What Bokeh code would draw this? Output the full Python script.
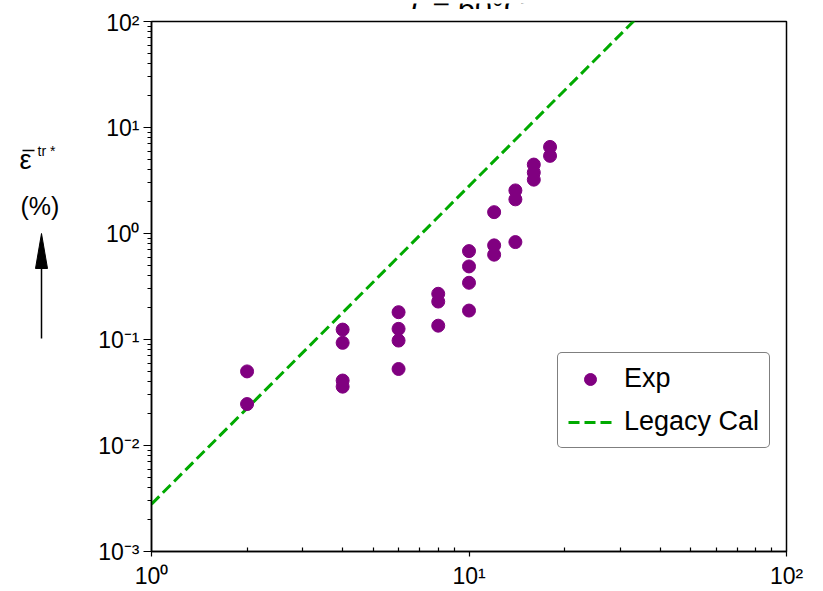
from bokeh.plotting import figure
from bokeh.layouts import column, row
from bokeh.models import (Legend, LegendItem, FixedTicker, CustomJSTickFormatter,
                          Range1d)
from bokeh.core.properties import value
from bokeh.embed import file_html
from bokeh.resources import INLINE

# ---- data ----
exp_x = [2, 2,
         4, 4, 4, 4,
         6, 6, 6, 6,
         8, 8, 8,
         10, 10, 10, 10,
         12, 12, 12,
         14, 14, 14,
         16, 16, 16,
         18, 18]
exp_y = [0.050, 0.0246,
         0.124, 0.093, 0.041, 0.0359,
         0.181, 0.126, 0.0977, 0.0527,
         0.270, 0.228, 0.135,
         0.682, 0.489, 0.343, 0.1875,
         1.59, 0.773, 0.631,
         2.55, 2.10, 0.830,
         4.47, 3.76, 3.22,
         6.56, 5.40]

legacy_x = [1, 100]
legacy_y = [0.0028, 2800.0]

x_ticks = [1, 10, 100]
x_tick_labels = ["10\u2070", "10\u00b9", "10\u00b2"]
y_ticks = [0.001, 0.01, 0.1, 1, 10, 100]
y_tick_labels = ["10\u207b\u00b3", "10\u207b\u00b2", "10\u207b\u00b9",
                 "10\u2070", "10\u00b9", "10\u00b2"]
x_minor = [m * d for d in [1, 10] for m in range(2, 10)]
y_minor = [m * d for d in [0.001, 0.01, 0.1, 1, 10] for m in range(2, 10)]

title_italic = "T"
title_rest = "= 60\u00b0C"
ylabel_sym = "\u03b5"
ylabel_sup = "tr *"
ylabel_unit = "(%)"

FONT = "Liberation Sans"
TOP = 9          # height of the title strip
FT, FB = 21, 551  # page rows of the plot frame
LH = 591 - TOP


def strip(w, h, xr, yr, **kw):
    f = figure(width=w, height=h, x_range=xr, y_range=yr, title=None,
               x_axis_location=None, y_axis_location=None,
               output_backend="svg", toolbar_location=None,
               min_border=0, min_border_left=0, min_border_right=0, **kw)
    f.xgrid.visible = False
    f.ygrid.visible = False
    f.outline_line_color = None
    f.background_fill_color = "white"
    f.border_fill_color = "white"
    return f


# ---- title strip (cut at the top like the reference) ----
tf = strip(823, TOP, Range1d(0, 823), Range1d(TOP, 0),
           min_border_top=0, min_border_bottom=0)
tf.text(x=[404], y=[4], text=[title_italic], text_font=value(FONT),
        text_font_size="30px", text_font_style="italic",
        text_baseline="alphabetic", text_align="left", text_color="black")
tf.text(x=[432], y=[4], text=[title_rest], text_font=value(FONT),
        text_font_size="30px", text_baseline="alphabetic", text_align="left",
        text_color="black")

# ---- left strip with the y label and arrow; its frame matches the plot frame,
#      its y range is in page rows ----
lf = strip(80, LH, Range1d(0, 80), Range1d(FB, FT),
           min_border_top=FT - TOP, min_border_bottom=591 - FB)
lf.text(x=[19], y=[159], text=[ylabel_sym], text_font=value(FONT),
        text_font_size="27px", text_baseline="alphabetic", text_color="black")
lf.segment(x0=[22], y0=[150], x1=[34], y1=[150], line_color="black", line_width=1.5)
lf.text(x=[37], y=[150], text=[ylabel_sup], text_font=value(FONT),
        text_font_size="14px", text_baseline="alphabetic", text_color="black")
lf.text(x=[20], y=[205], text=[ylabel_unit], text_font=value(FONT),
        text_font_size="25px", text_baseline="alphabetic", text_color="black")
lf.segment(x0=[41], y0=[338], x1=[41], y1=[264], line_color="black", line_width=1.5)
lf.patch(x=[41, 35, 47], y=[233, 268, 268], fill_color="black", line_color="black")

# ---- main plot ----
p = figure(width=743, height=LH, x_axis_type="log", y_axis_type="log",
           x_range=(1, 100), y_range=(0.001, 100),
           output_backend="svg", toolbar_location=None,
           min_border_left=71, min_border_right=37,
           min_border_top=FT - TOP, min_border_bottom=591 - FB)
p.background_fill_color = "white"
p.border_fill_color = "white"
p.outline_line_color = "black"
p.outline_line_width = 1.5
p.xgrid.visible = False
p.ygrid.visible = False

fmt_js = """
let best = 0, bd = 1e9;
for (let i = 0; i < tvals.length; i++) {
  const d = Math.abs(Math.log10(tick) - Math.log10(tvals[i]));
  if (d < bd) { bd = d; best = i; }
}
return tlabels[best];
"""

xa = p.xaxis[0]
xa.ticker = FixedTicker(ticks=x_ticks, minor_ticks=x_minor)
xa.formatter = CustomJSTickFormatter(args=dict(tvals=x_ticks, tlabels=x_tick_labels), code=fmt_js)
ya = p.yaxis[0]
ya.ticker = FixedTicker(ticks=y_ticks, minor_ticks=y_minor)
ya.formatter = CustomJSTickFormatter(args=dict(tvals=y_ticks, tlabels=y_tick_labels), code=fmt_js)

for ax in (xa, ya):
    ax.axis_line_color = "black"
    ax.axis_line_width = 1.5
    ax.major_tick_line_color = "black"
    ax.minor_tick_line_color = "black"
    ax.major_tick_line_width = 1.2
    ax.minor_tick_line_width = 1.2
    ax.major_label_text_font = FONT
    ax.major_label_text_font_size = "23px"
    ax.major_label_text_color = "black"

xa.major_tick_out = 5
xa.major_tick_in = 0
xa.minor_tick_out = 0
xa.minor_tick_in = 4
xa.major_label_standoff = 6
ya.major_tick_out = 8
ya.major_tick_in = 0
ya.minor_tick_out = 4
ya.minor_tick_in = 0
ya.major_label_standoff = 4

line_r = p.line(legacy_x, legacy_y, line_color="#00aa00", line_width=3,
                line_dash="11 5")
sc_r = p.scatter(exp_x, exp_y, size=13, fill_color="#800080",
                 line_color="#800080")

legend = Legend(items=[LegendItem(label="Exp", renderers=[sc_r]),
                       LegendItem(label="Legacy Cal", renderers=[line_r])],
                location=(406, 103))
legend.border_line_color = "black"
legend.border_line_width = 1
legend.border_radius = 5
legend.padding = 10
legend.margin = 0
legend.spacing = 12
legend.label_height = 30
legend.glyph_height = 30
legend.glyph_width = 44
legend.label_standoff = 12
legend.label_text_font = FONT
legend.label_text_font_size = "27px"
legend.label_text_color = "black"
legend.background_fill_alpha = 1
p.add_layout(legend, "center")

layout = column(tf, row(lf, p, spacing=0), spacing=0)
open("out.html", "w").write(file_html(layout, INLINE))
